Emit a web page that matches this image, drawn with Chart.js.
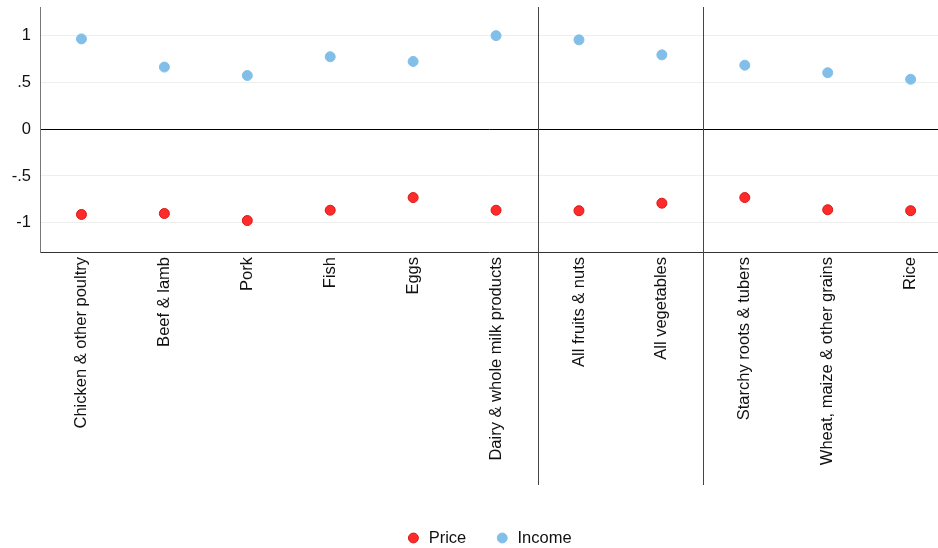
<!DOCTYPE html>
<html>
<head>
<meta charset="utf-8">
<script src="https://cdn.jsdelivr.net/npm/chart.js@4"></script>
<style>
  html, body { margin: 0; padding: 0; background: #fff; }
  #wrap { width: 938px; height: 548px; }
</style>
</head>
<body>
<div id="wrap"><canvas id="chart" width="938" height="548"></canvas></div>
<script>
// Категории и значения (эластичности)
const categories = ['Chicken & other poultry', 'Beef & lamb', 'Pork', 'Fish', 'Eggs',
  'Dairy & whole milk products', 'All fruits & nuts', 'All vegetables',
  'Starchy roots & tubers', 'Wheat, maize & other grains', 'Rice'];
const priceValues = [-0.91, -0.90, -0.975, -0.865, -0.73, -0.865, -0.87, -0.79, -0.73, -0.86, -0.87];
const incomeValues = [0.96, 0.66, 0.57, 0.77, 0.72, 0.995, 0.95, 0.79, 0.68, 0.60, 0.53];
const yTicks = [-1, -0.5, 0, 0.5, 1];
const groupBreaks = [6.5, 8.5];

const toPoints = vals => vals.map((v, i) => ({ x: i + 1, y: v }));
const FONT = 'Liberation Sans, Arial, sans-serif';

// Разделители групп
const separators = {
  id: 'separators',
  afterDatasetsDraw(chart) {
    const ctx = chart.ctx;
    const x = chart.scales.x;
    const area = chart.chartArea;
    ctx.save();
    ctx.strokeStyle = '#444';
    ctx.lineWidth = 1;
    groupBreaks.forEach(b => {
      const px = Math.round(x.getPixelForValue(b)) + 0.5;
      ctx.beginPath();
      ctx.moveTo(px, area.top);
      ctx.lineTo(px, area.bottom + 233);
      ctx.stroke();
    });
    ctx.restore();
  }
};

const ctx = document.getElementById('chart').getContext('2d');
const chart = new Chart(ctx, {
  type: 'scatter',
  data: {
    datasets: [
      {
        label: 'Price',
        data: toPoints(priceValues),
        backgroundColor: '#ff2a2a',
        borderColor: '#d81818',
        borderWidth: 1,
        pointRadius: 5,
        pointHoverRadius: 5
      },
      {
        label: 'Income',
        data: toPoints(incomeValues),
        backgroundColor: '#82bfe8',
        borderColor: '#82bfe8',
        borderWidth: 1,
        pointRadius: 5,
        pointHoverRadius: 5
      }
    ]
  },
  options: {
    responsive: false,
    animation: false,
    layout: { autoPadding: false, padding: { top: 7, right: 0, left: 0, bottom: -8.25 } },
    plugins: {
      legend: {
        position: 'bottom',
        fullSize: false,
        labels: {
          usePointStyle: true,
          pointStyle: 'circle',
          boxWidth: 14,
          boxHeight: 7,
          padding: 29,
          color: '#111',
          font: { family: FONT, size: 16.5 }
        }
      },
      tooltip: { enabled: false }
    },
    scales: {
      x: {
        type: 'linear',
        min: 0.5,
        max: 11.33,
        afterBuildTicks: scale => {
          scale.ticks = categories.map((c, i) => ({ value: i + 1 }));
        },
        afterFit: scale => {
          scale.height = 248.75;
          scale.paddingLeft = 0;
          scale.paddingRight = 0;
        },
        grid: { display: false, drawTicks: false },
        border: { display: true, color: '#333', width: 1 },
        ticks: {
          autoSkip: false,
          minRotation: 90,
          maxRotation: 90,
          padding: 5,
          color: '#111',
          font: { family: FONT, size: 16.5 },
          callback: v => categories[v - 1] || ''
        }
      },
      y: {
        min: -1.31,
        max: 1.3,
        afterBuildTicks: scale => {
          scale.ticks = yTicks.map(v => ({ value: v }));
        },
        afterFit: scale => {
          scale.width = 40;
          scale.paddingTop = 0;
          scale.paddingBottom = 0;
        },
        grid: {
          drawTicks: false,
          color: c => c.tick && c.tick.value === 0 ? '#000' : '#eeeeee',
          lineWidth: 1
        },
        border: { display: true, color: '#777', width: 1 },
        ticks: {
          padding: 9,
          color: '#111',
          font: { family: FONT, size: 16.5 },
          callback: v => {
            if (v === 0) return '0';
            return String(v).replace('0.', '.');
          }
        }
      }
    }
  },
  plugins: [separators]
});
</script>
</body>
</html>
